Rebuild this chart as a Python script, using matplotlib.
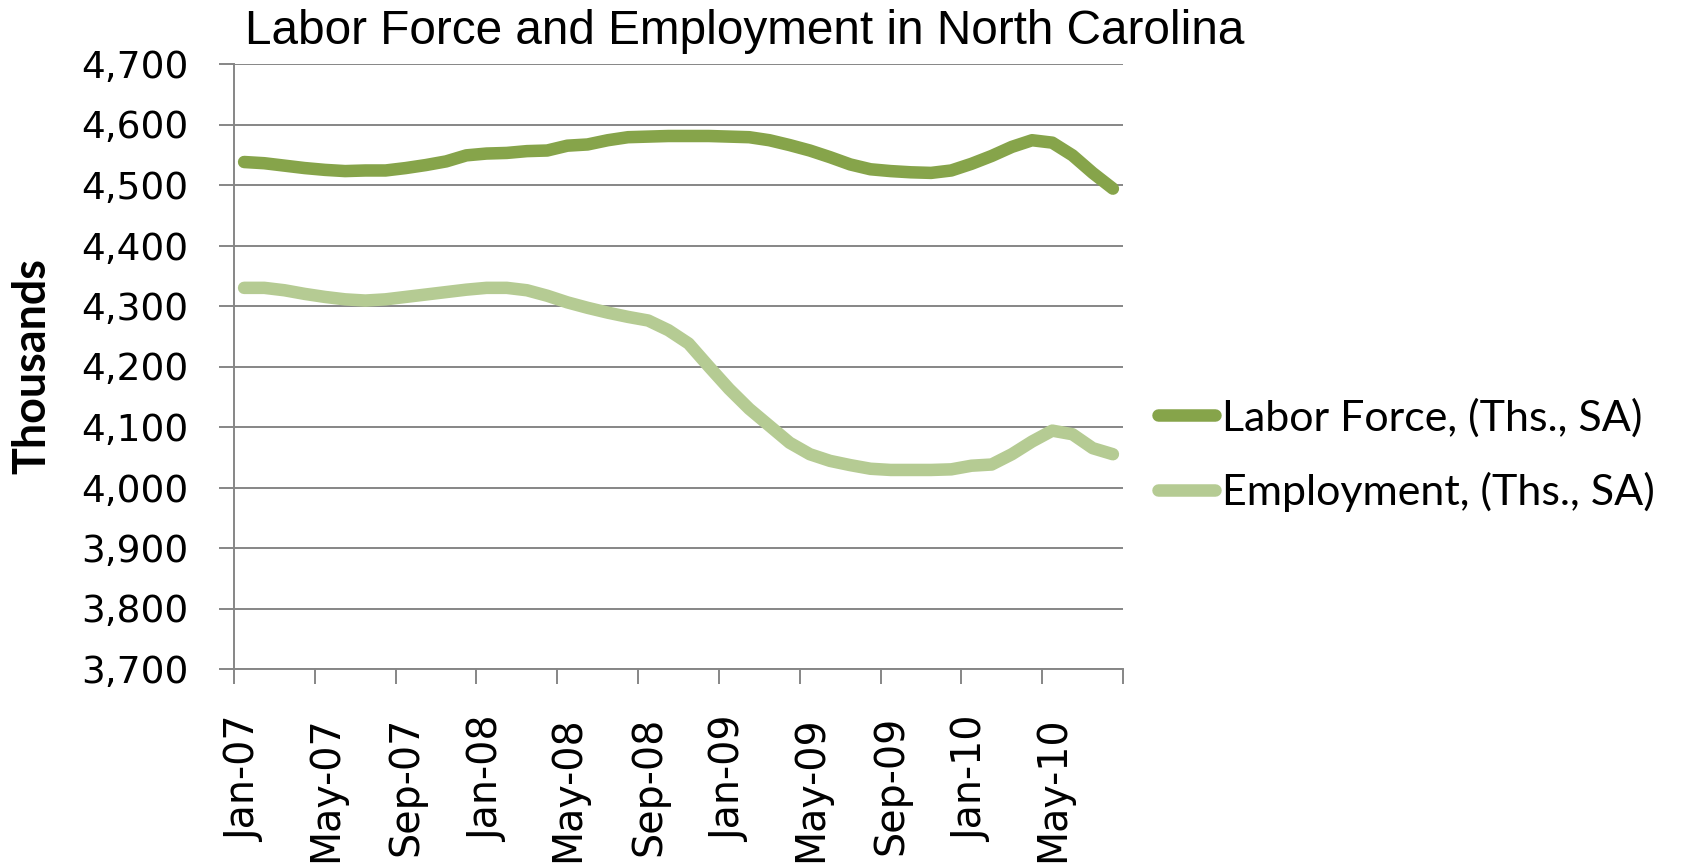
import matplotlib.pyplot as plt
import numpy as np

# monthly, Jan-07 .. Aug-10 (thousands, SA)
labor_force = [4538, 4536, 4532, 4528, 4525, 4523, 4524, 4524, 4528, 4533, 4539, 4549,
               4552, 4553, 4556, 4557, 4565, 4567, 4574, 4579, 4580, 4581, 4581, 4581,
               4580, 4579, 4574, 4566, 4557, 4546, 4534, 4526, 4523, 4521, 4520, 4524,
               4535, 4548, 4563, 4574, 4570, 4549, 4520, 4494]
employment = [4330, 4330, 4326, 4320, 4315, 4311, 4309, 4311, 4315, 4319, 4323, 4327,
              4330, 4330, 4326, 4317, 4306, 4297, 4289, 4282, 4276, 4260, 4238, 4200,
              4163, 4130, 4102, 4074, 4055, 4044, 4037, 4031, 4029, 4029, 4029, 4030,
              4036, 4038, 4055, 4076, 4094, 4088, 4065, 4055]
tick_labels = ["Jan-07", "May-07", "Sep-07", "Jan-08", "May-08", "Sep-08",
               "Jan-09", "May-09", "Sep-09", "Jan-10", "May-10"]
series_names = ["Labor Force, (Ths., SA)", "Employment, (Ths., SA)"]
yticks = list(range(3700, 4701, 100))

dark = "#86A44A"
light = "#B5CB93"
grey = "#868686"

W, H = 1682, 865
fig = plt.figure(figsize=(W / 100, H / 100), dpi=100)
ax = fig.add_axes([234 / W, 1 - 669 / H, 889 / W, 605 / H])

x = np.arange(len(labor_force)) + 0.5
l1, = ax.plot(x, labor_force, color=dark, lw=9, solid_capstyle="round", solid_joinstyle="round")
l2, = ax.plot(x, employment, color=light, lw=9, solid_capstyle="round", solid_joinstyle="round")

ax.set_xlim(0, 44)
ax.set_ylim(3700, 4700)

ax.set_yticks(yticks)
ax.set_yticklabels([f"{v:,}" for v in yticks], fontsize=27)
ax.tick_params(axis="y", length=10.8, width=1.4, color=grey, pad=22)

ax.set_xticks(np.arange(0, 45, 4))
ax.set_xticklabels([])
ax.tick_params(axis="x", which="major", length=10.8, width=1.4, color=grey)
ax.set_xticks(np.arange(0, 41, 4) + 0.55, minor=True)
ax.set_xticklabels(tick_labels, minor=True, rotation=90, fontsize=28.5)
ax.tick_params(axis="x", which="minor", length=0, pad=34)

ax.yaxis.grid(True, color=grey, lw=1.4)
ax.set_axisbelow(True)
for s in ["top", "right"]:
    ax.spines[s].set_visible(False)
for s in ["left", "bottom"]:
    ax.spines[s].set_color(grey)
    ax.spines[s].set_linewidth(1.4)

ax.set_ylabel("Thousands", fontfamily="Lato", fontweight="bold", fontsize=32.3)
ax.yaxis.set_label_coords(-0.203, 0.5)

fig.text(745 / W, 1 - 32 / H, "Labor Force and Employment in North Carolina",
         ha="center", va="center", fontfamily="Liberation Sans", fontsize=34.4)

fig.legend([l1, l2], series_names, loc="center left", bbox_to_anchor=(1158 / W, 1 - 455 / H),
           frameon=False, prop={"family": "Lato", "size": 31}, handlelength=1.33,
           handletextpad=0.15, labelspacing=0.8, borderpad=0, borderaxespad=0)

fig.savefig("out.png", dpi=100)
